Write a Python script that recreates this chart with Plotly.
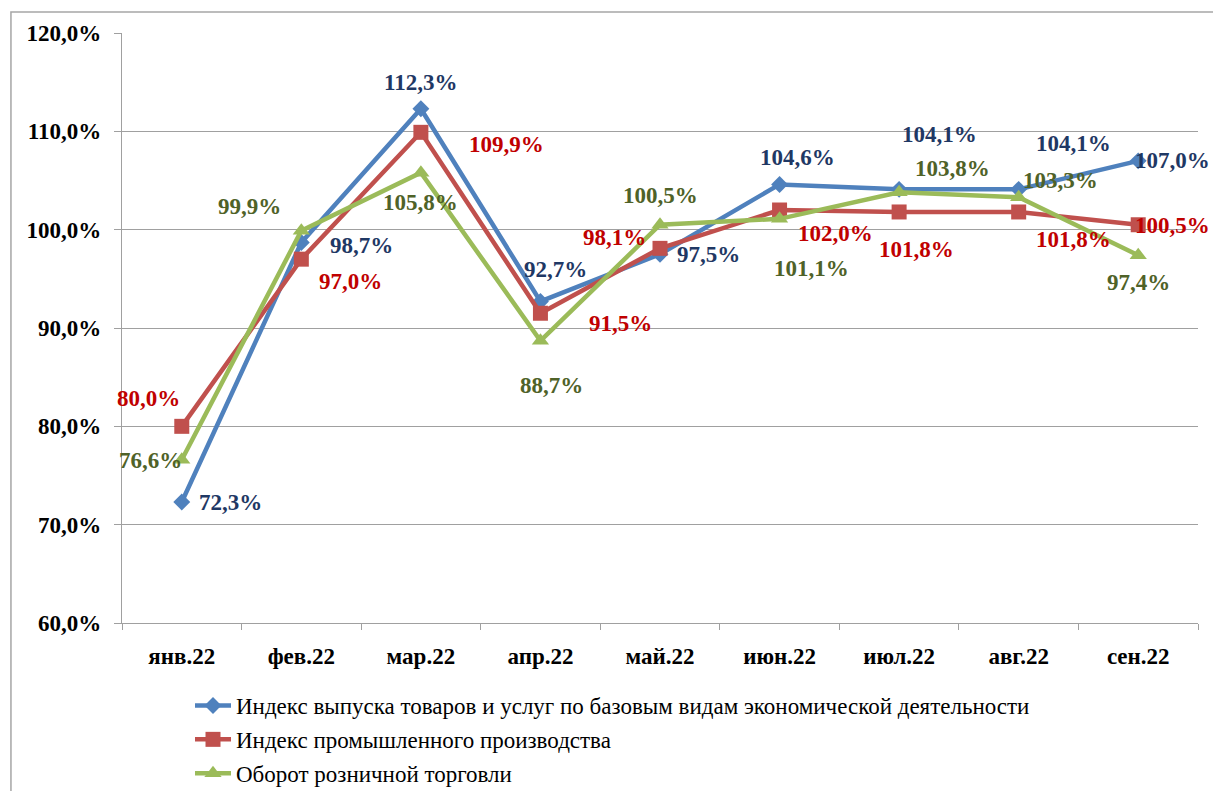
import plotly.graph_objects as go

categories = ["янв.22", "фев.22", "мар.22", "апр.22", "май.22", "июн.22", "июл.22", "авг.22", "сен.22"]
series_names = [
    "Индекс выпуска товаров и услуг по базовым видам экономической деятельности",
    "Индекс промышленного производства",
    "Оборот розничной торговли",
]
blue_values = [72.3, 98.7, 112.3, 92.7, 97.5, 104.6, 104.1, 104.1, 107.0]
red_values = [80.0, 97.0, 109.9, 91.5, 98.1, 102.0, 101.8, 101.8, 100.5]
green_values = [76.6, 99.9, 105.8, 88.7, 100.5, 101.1, 103.8, 103.3, 97.4]
y_ticks = [60, 70, 80, 90, 100, 110, 120]

# label offsets in pixels (dx right, dy down)
blue_dx = [49, 60, 0, 15, 48, 18, 40, 55, 34]
blue_dy = [0, 3, -26, -32, 0, -27, -55, -46, 0]
red_dx = [-33, 49, 86, 80, -46, 56, 17, 55, 34]
red_dy = [-28, 22, 12, 10, -11, 23, 38, 28, 1]
green_dx = [-31, -52, 0, 11, 0, 32, 53, 42, 0]
green_dy = [1, -24, 30, 45, -29, 50, -24, -17, 27]

line_colors = ["#4F81BD", "#C0504D", "#9BBB59"]
label_colors = ["#1F3864", "#C00000", "#4F6228"]
symbols = ["diamond", "square", "triangle-up"]
msizes = [13, 15, 15]
FONT = '"Liberation Serif", "Times New Roman", "DejaVu Serif", serif'

def fmt(v):
    return f"{v:.1f}".replace(".", ",") + "%"

fig = go.Figure()
all_vals = [blue_values, red_values, green_values]
all_dx = [blue_dx, red_dx, green_dx]
all_dy = [blue_dy, red_dy, green_dy]

for i, vals in enumerate(all_vals):
    fig.add_trace(go.Scatter(
        x=categories, y=vals, name=series_names[i], mode="lines+markers",
        line=dict(color=line_colors[i], width=4.5),
        marker=dict(symbol=symbols[i], size=msizes[i], color=line_colors[i]),
        legendgroup=str(i), cliponaxis=False,
    ))

annotations = []
for i, vals in enumerate(all_vals):
    for j, v in enumerate(vals):
        annotations.append(dict(
            x=categories[j], y=v, text=fmt(v), showarrow=False,
            xshift=all_dx[i][j], yshift=-all_dy[i][j],
            font=dict(family=FONT, size=23, color=label_colors[i], weight="bold"),
        ))

fig.update_layout(
    width=1213, height=791,
    margin=dict(l=122, r=15, t=33, b=168, autoexpand=False),
    paper_bgcolor="white", plot_bgcolor="white",
    font=dict(family=FONT, color="black"),
    annotations=annotations,
    showlegend=True,
    legend=dict(
        xref="container", yref="container",
        x=190 / 1213, y=1 - 684 / 791, xanchor="left", yanchor="top",
        font=dict(family=FONT, size=23, color="black"),
        tracegroupgap=1, itemwidth=36,
        bgcolor="rgba(0,0,0,0)",
    ),
    shapes=[dict(
        type="rect", xref="paper", yref="paper",
        x0=-0.1032, y0=1.0356, x1=1.2, y1=-0.5,
        line=dict(color="#A6A6A6", width=1.5), layer="below",
    )],
)

fig.update_xaxes(
    type="category", showline=True, linecolor="#A0A0A0", linewidth=1.3,
    ticks="outside", ticklen=6, tickcolor="#A0A0A0", tickson="boundaries",
    tickfont=dict(family=FONT, size=23, color="black", weight="bold"),
    ticklabelstandoff=12,
    showgrid=False, range=[-0.5, 8.5],
)
fig.update_yaxes(
    range=[60, 120], tickvals=y_ticks,
    ticktext=[f"{t},0%" for t in y_ticks],
    showline=True, linecolor="#A0A0A0", linewidth=1.3,
    ticks="outside", ticklen=7, tickcolor="#A0A0A0",
    ticklabelstandoff=8,
    showgrid=True, gridcolor="#A0A0A0", gridwidth=1.3,
    tickfont=dict(family=FONT, size=23, color="black", weight="bold"),
    zeroline=False,
)

fig.write_html("out.html", config={"displayModeBar": False},
               post_script="document.body.style.margin='0';")
